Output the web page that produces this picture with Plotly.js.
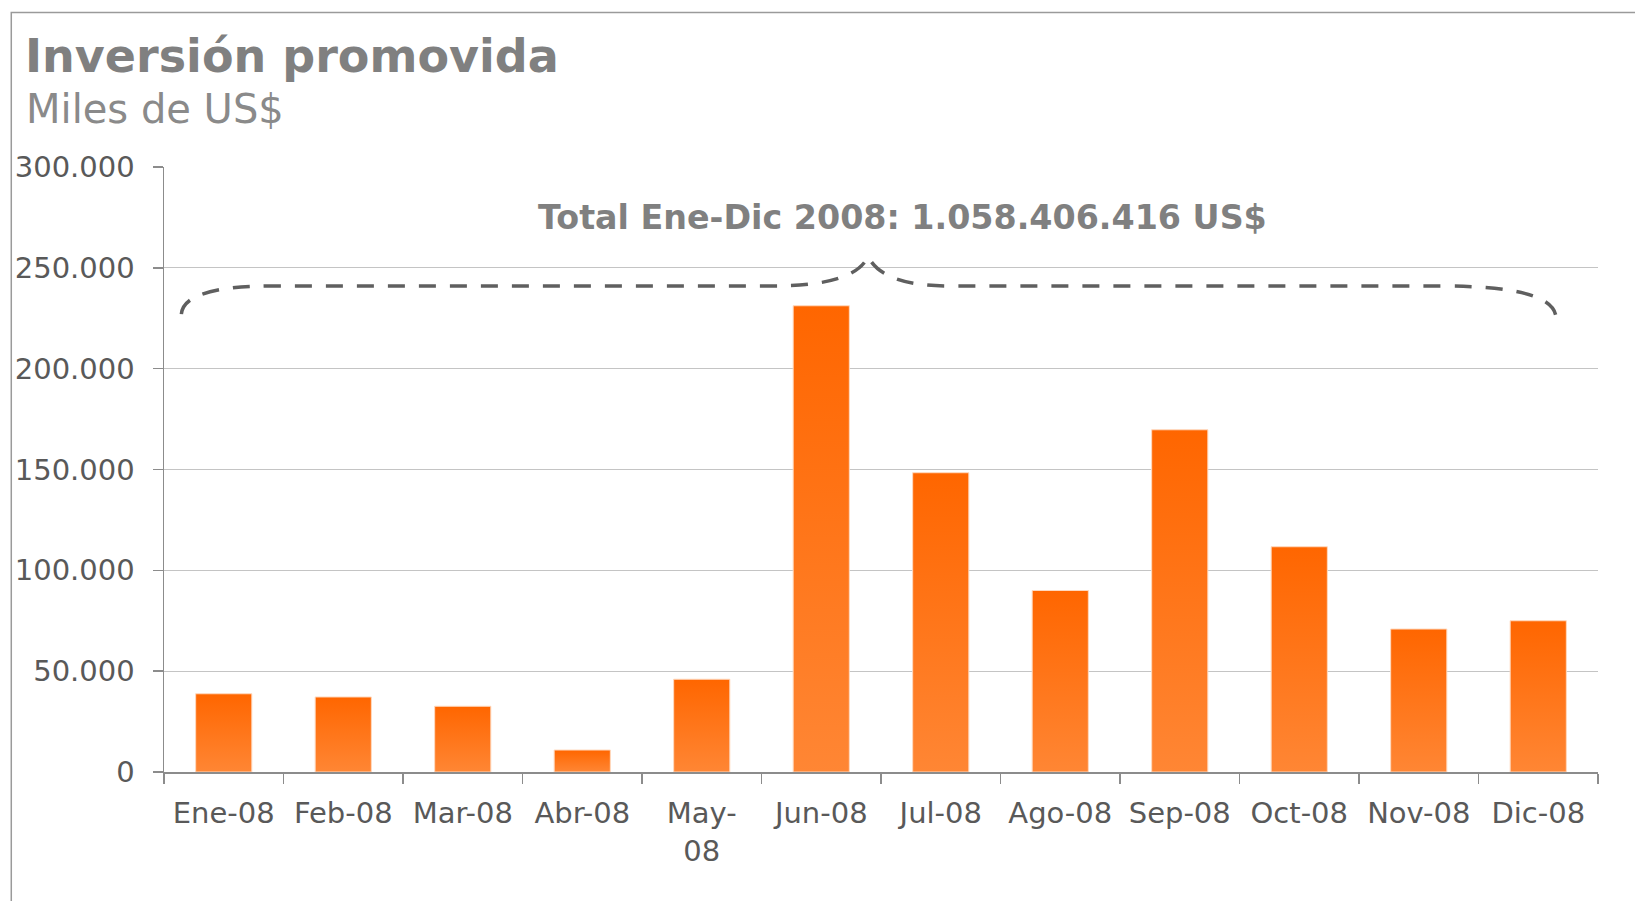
<!DOCTYPE html>
<html>
<head>
<meta charset="utf-8">
<script src="https://cdn.plot.ly/plotly-3.0.1.min.js"></script>
<style>html,body{margin:0;padding:0;background:#ffffff;}</style>
</head>
<body>
<div id="chart" style="width:1635px;height:901px;"></div>
<script>
// ---- data ----
const months = ['Ene-08','Feb-08','Mar-08','Abr-08','May-08','Jun-08','Jul-08','Ago-08','Sep-08','Oct-08','Nov-08','Dic-08'];
const monthTickText = ['Ene-08','Feb-08','Mar-08','Abr-08','May-<br>08','Jun-08','Jul-08','Ago-08','Sep-08','Oct-08','Nov-08','Dic-08'];
const investment = [38800,37200,32600,10900,46000,231200,148400,90000,169700,111700,70900,75000];
const yTickVals = [0,50000,100000,150000,200000,250000,300000];
const chartTitle = 'Inversión promovida';
const chartSubtitle = 'Miles de US$';
const totalLabel = 'Total Ene-Dic 2008: 1.058.406.416 US$';

const FONT = 'DejaVu Sans, Liberation Sans, Arial, sans-serif';

const trace = {
  type: 'bar',
  x: months,
  y: investment,
  marker: {color: '#FF7419', line: {color: '#FFD9BF', width: 1}},
  hoverinfo: 'x+y'
};

const layout = {
  width: 1635,
  height: 901,
  margin: {l: 164, r: 37, t: 167, b: 129},
  paper_bgcolor: '#ffffff',
  plot_bgcolor: '#ffffff',
  separators: ',.',
  showlegend: false,
  bargap: 0.53,
  font: {family: FONT, color: '#595959'},
  title: {
    text: '<b>' + chartTitle + '</b>',
    font: {family: FONT, size: 46, color: '#808080'},
    xref: 'container', yref: 'container',
    x: 25/1635, xanchor: 'left',
    y: 1 - 40/901, yanchor: 'top'
  },
  xaxis: {
    type: 'category',
    tickvals: months,
    ticktext: monthTickText,
    tickson: 'boundaries',
    ticks: 'outside',
    ticklen: 10,
    tickwidth: 1.5,
    tickcolor: '#8c8c8c',
    showline: true,
    linecolor: '#8c8c8c',
    linewidth: 2,
    showgrid: false,
    tickfont: {family: FONT, size: 29, color: '#595959'},
    ticklabelstandoff: 14,
    fixedrange: true
  },
  yaxis: {
    range: [0, 300000],
    tickvals: yTickVals,
    tickformat: ',d',
    ticks: 'outside',
    ticklen: 10,
    tickwidth: 1.5,
    tickcolor: '#8c8c8c',
    showline: true,
    linecolor: '#8c8c8c',
    linewidth: 1.5,
    showgrid: true,
    gridcolor: '#c4c4c4',
    gridwidth: 1,
    zeroline: false,
    tickfont: {family: FONT, size: 29, color: '#595959'},
    ticklabelstandoff: 12,
    fixedrange: true
  },
  annotations: [
    {
      text: chartSubtitle,
      xref: 'paper', yref: 'paper',
      x: -0.0975, y: 1.0964, xanchor: 'left', yanchor: 'middle',
      showarrow: false,
      font: {family: FONT, size: 40, color: '#8a8a8a'}
    },
    {
      text: '<b>' + totalLabel + '</b>',
      xref: 'paper', yref: 'y',
      x: 0.5147, y: 275000, xanchor: 'center', yanchor: 'middle',
      showarrow: false,
      font: {family: FONT, size: 33.3, color: '#808080'}
    }
  ],
  shapes: [
    // outer frame
    {
      type: 'rect', xref: 'paper', yref: 'paper', layer: 'below',
      x0: -0.1065, x1: 1.2, y0: -0.4, y1: 1.2553,
      line: {color: '#9a9a9a', width: 1.5}, fillcolor: 'rgba(0,0,0,0)'
    },
    // dashed curly brace
    {
      type: 'path', xref: 'paper', yref: 'y', layer: 'above',
      path: 'M 0.0121,227000 Q 0.0138,241000 0.0758,241000 L 0.4246,241000 ' +
            'Q 0.4819,241000 0.4910,255700 Q 0.5008,241000 0.5481,241000 ' +
            'L 0.8907,241000 Q 0.9689,241000 0.9707,225500',
      line: {color: '#5f5f5f', width: 3.5, dash: '17px,14px'}
    }
  ]
};

Plotly.newPlot('chart', [trace], layout, {displayModeBar: false, staticPlot: true}).then(function (gd) {
  // vertical orange gradient on each bar
  const svg = gd.querySelector('svg.main-svg');
  const ns = 'http://www.w3.org/2000/svg';
  let defs = svg.querySelector('defs');
  if (!defs) { defs = document.createElementNS(ns, 'defs'); svg.insertBefore(defs, svg.firstChild); }
  const grad = document.createElementNS(ns, 'linearGradient');
  grad.setAttribute('id', 'barGrad');
  grad.setAttribute('x1', '0'); grad.setAttribute('y1', '0');
  grad.setAttribute('x2', '0'); grad.setAttribute('y2', '1');
  [['0', '#FF6600'], ['1', '#FF8634']].forEach(function (s) {
    const st = document.createElementNS(ns, 'stop');
    st.setAttribute('offset', s[0]);
    st.setAttribute('stop-color', s[1]);
    grad.appendChild(st);
  });
  defs.appendChild(grad);
  gd.querySelectorAll('.bars .point path').forEach(function (p) {
    p.style.fill = 'url(#barGrad)';
  });
});
</script>
</body>
</html>
